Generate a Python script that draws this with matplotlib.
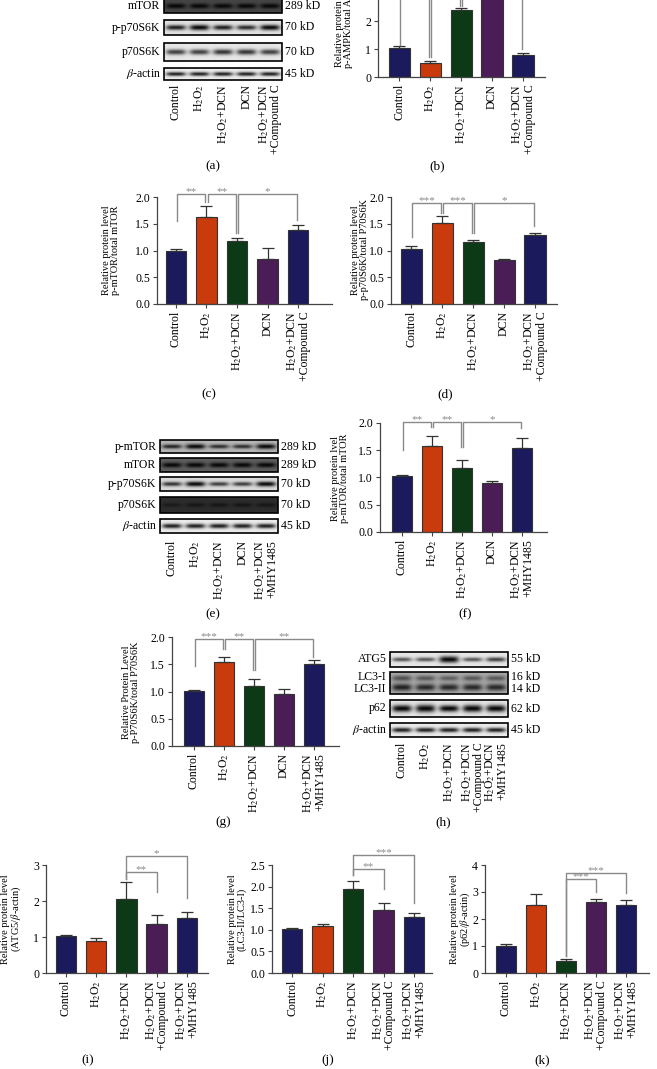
import numpy as np
import matplotlib.pyplot as plt
from matplotlib.patches import Rectangle

plt.rcParams['font.family'] = ['Liberation Serif', 'DejaVu Serif']
plt.rcParams['mathtext.fontset'] = 'stix'

W, H = 657, 1069
fig = plt.figure(figsize=(W / 100, H / 100), dpi=100)

H2 = 'H$_2$O$_2$'
grp_cc = ['Control', H2, H2 + '+DCN', 'DCN', H2 + '+DCN\n+Compound C']
grp_mh = ['Control', H2, H2 + '+DCN', 'DCN', H2 + '+DCN\n+MHY1485']
grp_au = ['Control', H2, H2 + '+DCN', H2 + '+DCN\n+Compound C', H2 + '+DCN\n+MHY1485']

colors = ['#1b1a5c', '#c93a0c', '#0c3a16', '#4a1d57', '#1b1a5c']

# bar data (mean, upper error)
b_mean = [1.03, 0.50, 2.38, 3.30, 0.80]
b_err = [0.06, 0.08, 0.10, 0.20, 0.07]
c_mean = [1.00, 1.62, 1.18, 0.85, 1.38]
c_err = [0.03, 0.21, 0.06, 0.19, 0.10]
d_mean = [1.03, 1.52, 1.16, 0.82, 1.29]
d_err = [0.05, 0.12, 0.04, 0.03, 0.04]
f_mean = [1.02, 1.57, 1.18, 0.90, 1.55]
f_err = [0.03, 0.20, 0.14, 0.03, 0.17]
g_mean = [1.01, 1.54, 1.10, 0.96, 1.50]
g_err = [0.01, 0.10, 0.13, 0.09, 0.08]
i_mean = [1.02, 0.88, 2.05, 1.35, 1.53]
i_err = [0.03, 0.10, 0.47, 0.25, 0.17]
j_mean = [1.01, 1.08, 1.95, 1.45, 1.30]
j_err = [0.03, 0.05, 0.18, 0.17, 0.08]
k_mean = [1.00, 2.52, 0.43, 2.63, 2.53]
k_err = [0.06, 0.40, 0.09, 0.12, 0.19]

# significance brackets: (bar1, bar2, top, leg1 bottom, leg2 bottom, label)
# (b) bracket tops lie above the cropped figure edge, only the legs show
b_br = [(0, 1, 4.4, 1.14, 0.71, ''), (1, 2, 4.4, 0.71, 2.55, ''), (2, 4, 4.4, 2.55, 1.0, '')]
c_br = [(0, 1, 2.06, 1.55, 1.90, '**'), (1, 2, 2.06, 1.90, 1.33, '**'), (2, 4, 2.06, 1.33, 1.57, '*')]
d_br = [(0, 1, 1.88, 1.26, 1.70, '***'), (1, 2, 1.88, 1.70, 1.33, '***'), (2, 4, 1.88, 1.33, 1.46, '*')]
f_br = [(0, 1, 2.01, 1.50, 1.93, '**'), (1, 2, 2.01, 1.93, 1.56, '**'), (2, 4, 2.01, 1.56, 1.90, '*')]
g_br = [(0, 1, 1.97, 1.46, 1.78, '***'), (1, 2, 1.97, 1.78, 1.40, '**'), (2, 4, 1.97, 1.40, 1.64, '**')]
i_br = [(2, 3, 2.81, 2.60, 2.26, '**'), (2, 4, 3.25, 2.60, 2.08, '*')]
j_br = [(2, 3, 2.41, 2.27, 1.94, '**'), (2, 4, 2.73, 2.27, 1.62, '***')]
k_br = [(2, 3, 3.48, 0.62, 3.01, '***'), (2, 4, 3.71, 0.62, 2.97, '***')]

# western blot band strengths per lane
a_rows = ['mTOR', 'p-p70S6K', 'p70S6K', r'$\beta$-actin']
a_kd = ['289 kD', '70 kD', '70 kD', '45 kD']
a_bg = [0.75, 0.12, 0.10, 0.08]
a_bands = [[1.0, 1.0, 1.0, 1.0, 1.0],
           [0.9, 1.1, 0.9, 0.85, 1.05],
           [0.75, 0.75, 0.8, 0.8, 0.75],
           [0.9, 0.9, 0.9, 0.9, 0.9]]

e_rows = ['p-mTOR', 'mTOR', 'p-p70S6K', 'p70S6K', r'$\beta$-actin']
e_kd = ['289 kD', '289 kD', '70 kD', '70 kD', '45 kD']
e_bg = [0.30, 0.65, 0.15, 0.85, 0.08]
e_bands = [[0.85, 1.15, 0.8, 0.8, 1.15],
           [1.0, 1.0, 1.0, 1.0, 1.0],
           [0.8, 1.0, 0.75, 0.75, 1.0],
           [0.5, 0.6, 0.6, 0.6, 0.6],
           [0.9, 0.9, 0.9, 0.9, 0.9]]

h_rows = ['ATG5', 'LC3-I\nLC3-II', 'p62', r'$\beta$-actin']
h_kd = ['55 kD', '16 kD\n14 kD', '62 kD', '45 kD']
h_bg = [0.10, 0.35, 0.10, 0.08]
h_atg5 = [0.65, 0.65, 1.4, 0.65, 0.75]
h_lc3i = [0.55, 0.5, 0.45, 0.5, 0.5]
h_lc3ii = [0.85, 0.8, 0.8, 0.8, 0.8]
h_p62 = [1.3, 1.45, 1.2, 1.35, 1.3]
h_actin = [0.9, 0.9, 0.9, 0.9, 0.9]

LANE_FS = 9
BLOT_LANE_FS = 8.5
TICK_FS = 8.5
YLAB_FS = 7.5


def px_axes(x0, y0, x1, y1):
    return fig.add_axes([x0 / W, 1 - y1 / H, (x1 - x0) / W, (y1 - y0) / H])


def bar_panel(rect, xlim, ylim, yticks, fmt, means, errs, labels, brs, dx):
    ax = px_axes(*rect)
    x = np.arange(len(means))
    ax.bar(x, means, width=0.68, color=colors, edgecolor='#333333', linewidth=0.8, zorder=2)
    ax.errorbar(x, means, yerr=[np.zeros(len(errs)), errs], fmt='none', ecolor='#333333',
                elinewidth=0.9, capsize=4.5, capthick=0.9, zorder=3)
    ax.set_xlim(xlim)
    ax.set_ylim(ylim)
    ax.set_yticks(yticks)
    ax.set_yticklabels([fmt % t for t in yticks])
    ax.set_xticks(x)
    ax.set_xticklabels(labels, rotation=90, va='top', ha='center', multialignment='right',
                       fontsize=LANE_FS, linespacing=0.95)
    for s in ['top', 'right']:
        ax.spines[s].set_visible(False)
    for s in ['left', 'bottom']:
        ax.spines[s].set_color('#444444')
        ax.spines[s].set_linewidth(0.9)
    ax.tick_params(length=3, width=0.8, color='#444444', labelsize=TICK_FS, pad=2)
    for i1, i2, top, b1, b2, lab in brs:
        x1, x2 = i1 + dx, i2 - dx
        ax.plot([x1, x1, x2, x2], [b1, top, top, b2], color='#8a8a8a', lw=1.0, clip_on=False, zorder=4)
        if lab:
            ax.annotate(lab, ((x1 + x2) / 2, top), xytext=(0, -1.5), textcoords='offset points',
                        ha='center', va='bottom', fontsize=8, color='#8a8a8a', annotation_clip=False)
    return ax


def band_image(bg, bands, nl):
    # bands: list of (vertical centre 0..1, strengths per lane)
    xs = np.linspace(0, nl, 240)
    ys = np.linspace(0, 1, 60)
    dark = np.zeros((ys.size, xs.size))
    for yc, st in bands:
        for i, s in enumerate(st):
            px = np.exp(-((xs - (i + 0.5)) / 0.42) ** 4)
            sig = 0.07 + 0.11 * s
            py = np.exp(-((ys - yc) / sig) ** 2)
            dark += min(s, 1.0) * np.outer(py, px)
    dark = np.clip(dark, 0, 1)
    d = 1 - (1 - bg) * (1 - dark)
    return 1 - 0.97 * d


def blot_panel(x0, x1, boxes, lane_top, rows, kds, bgs, bands, lanes, label_fs=8.5):
    nl = len(lanes)
    top = min(b[0] for b in boxes)
    ax = px_axes(x0, top, x1, lane_top)
    ax.set_xlim(0, nl)
    ax.set_ylim(lane_top, top)
    ax.axis('off')
    for (y0, y1), name, kd, bg, bd in zip(boxes, rows, kds, bgs, bands):
        img = band_image(bg, bd, nl)
        ax.imshow(img, cmap='gray', vmin=0, vmax=1, extent=(0, nl, y1, y0), aspect='auto',
                  interpolation='bilinear', clip_on=False)
        ax.add_patch(Rectangle((0, y0), nl, y1 - y0, fill=False, ec='black', lw=1.2, clip_on=False))
        ym = (y0 + y1) / 2
        ax.text(-0.15, ym, name, ha='right', va='center', fontsize=label_fs, clip_on=False,
                linespacing=0.95)
        ax.text(nl + 0.12, ym, kd, ha='left', va='center', fontsize=label_fs, clip_on=False,
                linespacing=0.95)
    for i, lab in enumerate(lanes):
        ax.text(i + 0.5, lane_top + 3, lab, rotation=90, ha='center', va='top',
                multialignment='right', fontsize=BLOT_LANE_FS, linespacing=0.9)
    return ax


def ylab(x, y, text):
    fig.text(x / W, 1 - y / H, text, rotation=90, ha='center', va='center', fontsize=YLAB_FS,
             linespacing=1.05)


def plab(x, y, text):
    fig.text(x / W, 1 - y / H, text, ha='center', va='center', fontsize=9.5)


# (a)
blot_panel(164, 282, [(-1, 13), (20, 35), (43, 61), (68, 80)], 81,
           a_rows, a_kd, a_bg, [[(0.5, s)] for s in a_bands], grp_cc)
plab(213, 166, '(a)')

# (b)
bar_panel((378, -35, 545, 77), (-0.68, 4.71), (0, 4), [0, 1, 2, 3, 4], '%d',
          b_mean, b_err, grp_cc, b_br, 0.04)
ylab(344, 22, 'Relative protein level\np-AMPK/total AMPK')
plab(437, 166, '(b)')

# (c)
t05 = [0, 0.5, 1.0, 1.5, 2.0]
bar_panel((157, 197, 332, 304), (-0.62, 5.11), (0, 2), t05, '%.1f',
          c_mean, c_err, grp_cc, c_br, 0.04)
ylab(111, 250, 'Relative protein level\np-mTOR/total mTOR')
plab(209, 394, '(c)')

# (d)
bar_panel((391, 197, 557, 304), (-0.65, 4.71), (0, 2), t05, '%.1f',
          d_mean, d_err, grp_cc, d_br, 0.04)
ylab(360, 250, 'Relative protein level\np-p70S6K/total P70S6K')
plab(445, 394, '(d)')

# (e)
blot_panel(160, 278, [(440, 453), (458, 472), (477, 491), (497, 513), (519, 533)], 537,
           e_rows, e_kd, e_bg, [[(0.5, s)] for s in e_bands], grp_mh)
plab(213, 614, '(e)')

# (f)
bar_panel((380, 423, 547, 532), (-0.73, 4.83), (0, 2), t05, '%.1f',
          f_mean, f_err, grp_mh, f_br, 0.04)
ylab(340, 478, 'Relative protein lvel\np-mTOR/total mTOR')
plab(465, 614, '(f)')

# (g)
bar_panel((172, 637, 339, 746), (-0.73, 4.83), (0, 2), t05, '%.1f',
          g_mean, g_err, grp_mh, g_br, 0.04)
ylab(131, 692, 'Relative Protein Level\np-P70S6K/total P70S6K')
plab(223, 822, '(g)')

# (h)
blot_panel(390, 508, [(652, 667), (672, 694), (700, 717), (723, 737)], 739,
           h_rows, h_kd, h_bg,
           [[(0.5, h_atg5)], [(0.28, h_lc3i), (0.7, h_lc3ii)], [(0.5, h_p62)], [(0.5, h_actin)]],
           grp_au)
plab(443, 822, '(h)')

# (i)
bar_panel((46, 865, 208, 973), (-0.66, 4.70), (0, 3), [0, 1, 2, 3], '%d',
          i_mean, i_err, grp_au, i_br, 0.0)
ylab(12, 919, 'Relative protein level\n(ATG5/$\\beta$-actin)')
plab(88, 1060, '(i)')

# (j)
bar_panel((272, 865, 432, 973), (-0.66, 4.59), (0, 2.5), [0, 0.5, 1.0, 1.5, 2.0, 2.5], '%.1f',
          j_mean, j_err, grp_au, j_br, 0.0)
ylab(237, 919, 'Relative protein level\n(LC3-II/LC3-I)')
plab(328, 1060, '(j)')

# (k)
bar_panel((485, 865, 649, 973), (-0.70, 4.77), (0, 4), [0, 1, 2, 3, 4], '%d',
          k_mean, k_err, grp_au, k_br, 0.0)
ylab(461, 919, 'Relative protein level\n(p62/$\\beta$-actin)')
plab(542, 1060, '(k)')

fig.savefig('out.png', dpi=100)
